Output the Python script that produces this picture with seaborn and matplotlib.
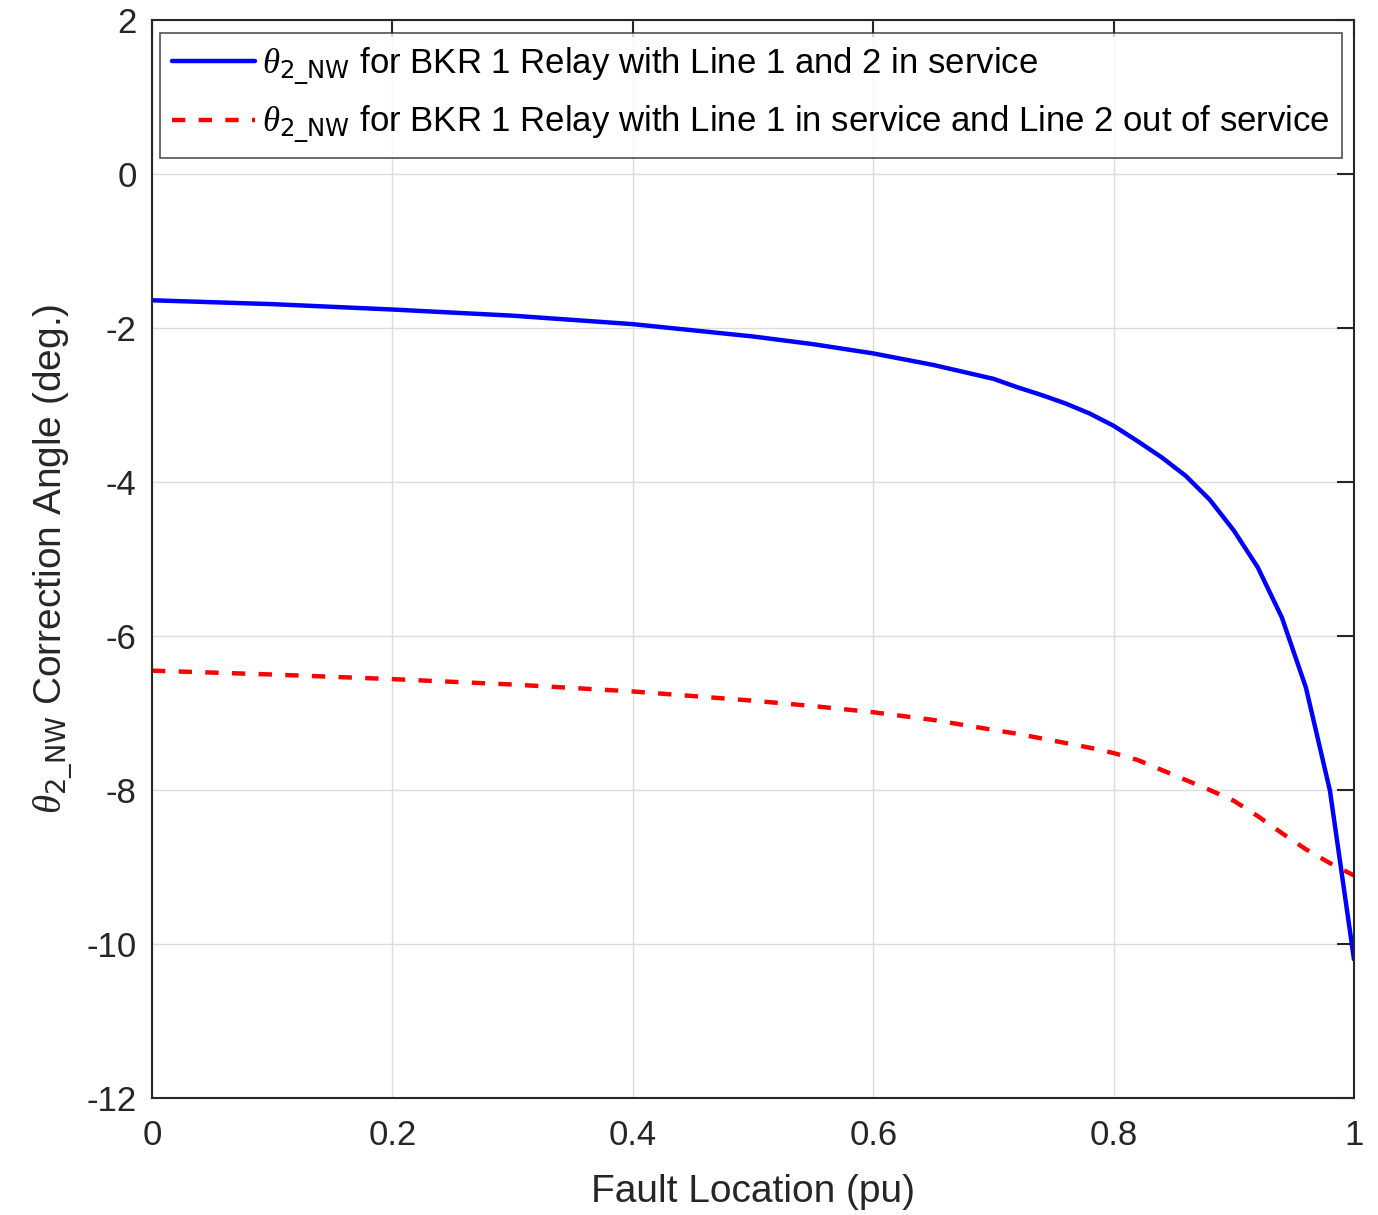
import matplotlib
matplotlib.use("Agg")
import matplotlib.pyplot as plt
import pandas as pd
import seaborn as sns

# fault location (pu)
fault_loc = [0.0, 0.1, 0.2, 0.3, 0.4, 0.5, 0.55, 0.6, 0.65, 0.7, 0.72, 0.74,
             0.76, 0.78, 0.8, 0.82, 0.84, 0.86, 0.88, 0.9, 0.92, 0.94, 0.96,
             0.98, 1.0]

# correction angle (deg.) - line 1 and 2 in service
angle_both = [-1.64, -1.69, -1.76, -1.84, -1.95, -2.11, -2.21, -2.33, -2.48,
              -2.66, -2.77, -2.87, -2.98, -3.11, -3.27, -3.47, -3.68, -3.92,
              -4.23, -4.63, -5.11, -5.76, -6.67, -8.01, -10.2]

# correction angle (deg.) - line 2 out of service
angle_line2_out = [-6.45, -6.50, -6.56, -6.63, -6.72, -6.84, -6.91, -6.99,
                   -7.09, -7.22, -7.27, -7.33, -7.39, -7.45, -7.52, -7.61,
                   -7.74, -7.87, -8.00, -8.14, -8.34, -8.56, -8.77, -8.95,
                   -9.11]

label_both = r"$\theta_{\mathsf{2\_NW}}$ for BKR 1 Relay with Line 1 and 2 in service"
label_out = (r"$\theta_{\mathsf{2\_NW}}$ for BKR 1 Relay with Line 1 in service "
             "and Line 2 out of service")

df = pd.DataFrame({"loc": fault_loc, "both": angle_both, "out": angle_line2_out})

sns.set_theme(style="whitegrid")
plt.rcParams["font.family"] = ["Liberation Sans", "DejaVu Sans"]
plt.rcParams["mathtext.fontset"] = "custom"
plt.rcParams["mathtext.it"] = "Liberation Serif:italic"
plt.rcParams["mathtext.rm"] = "DejaVu Sans"
plt.rcParams["mathtext.sf"] = "DejaVu Sans"

fig = plt.figure(figsize=(13.78, 12.15), dpi=100)
ax = fig.add_axes([152 / 1378, 1 - 1098 / 1215, 1202 / 1378, 1078 / 1215])

sns.lineplot(data=df, x="loc", y="both", color="#0000ff", linewidth=3.2,
             label=label_both, ax=ax)
sns.lineplot(data=df, x="loc", y="out", color="#ff0000", linewidth=3.2,
             linestyle=(0, (3, 3)), label=label_out, ax=ax)

ax.set_xlim(0, 1)
ax.set_ylim(-12, 2)
ax.set_xticks([0, 0.2, 0.4, 0.6, 0.8, 1])
ax.set_xticklabels(["0", "0.2", "0.4", "0.6", "0.8", "1"])
ax.set_yticks(range(-12, 3, 2))
ax.set_yticklabels([str(v) for v in range(-12, 3, 2)])
ax.tick_params(axis="both", labelsize=25, colors="#262626", direction="in",
               length=12, width=1.5, top=True, right=True)
ax.tick_params(axis="x", pad=15)
ax.tick_params(axis="y", pad=11)
ax.grid(True, color="#dcdcdc", linewidth=1)
for s in ax.spines.values():
    s.set_color("#262626")
    s.set_linewidth(1.5)

ax.set_xlabel("Fault Location (pu)", fontsize=28, color="#262626", labelpad=16)
ax.set_ylabel(r"$\theta_{\mathsf{2\_NW}}$ Correction Angle (deg.)", fontsize=28,
              color="#262626", labelpad=8)

leg = ax.legend(loc="upper left", bbox_to_anchor=(0.0065, 0.988), fontsize=25,
                frameon=True, fancybox=False, edgecolor="#262626",
                handlelength=2.4, handletextpad=0.2, borderpad=0.35,
                labelspacing=0.5, borderaxespad=0)
leg.get_frame().set_linewidth(1.2)
for t in leg.get_texts():
    t.set_color("black")

fig.savefig("out.png", dpi=100, facecolor="white")
